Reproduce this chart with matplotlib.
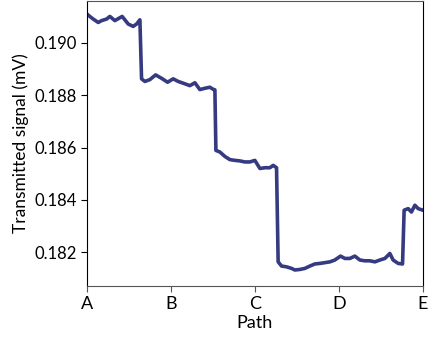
import matplotlib
matplotlib.use("Agg")
import matplotlib.pyplot as plt

plt.rcParams['font.family'] = ['Lato', 'DejaVu Sans']

# path position (0=A ... 4=E) and transmitted signal (mV)
pos = [0.0, 0.015, 0.075, 0.135, 0.175, 0.235, 0.274, 0.333, 0.420, 0.492, 0.551, 0.592, 0.631,
       0.651, 0.690, 0.750, 0.818, 0.889, 0.961, 1.027, 1.087, 1.167, 1.226, 1.286, 1.345, 1.405,
       1.464, 1.504, 1.524,
       1.536, 1.583, 1.643, 1.702, 1.762, 1.821, 1.881, 1.940, 2.000, 2.060, 2.119, 2.179, 2.218,
       2.258,
       2.277, 2.318, 2.377, 2.437, 2.476, 2.536, 2.595, 2.655, 2.714, 2.774, 2.833, 2.893, 2.952,
       3.020, 3.071, 3.131, 3.190, 3.250, 3.310, 3.369, 3.429, 3.488, 3.548, 3.607, 3.646, 3.706,
       3.758,
       3.777, 3.825, 3.864, 3.905, 3.944, 4.000]
signal = [0.19110, 0.19105, 0.19090, 0.19077, 0.19084, 0.19090, 0.19100, 0.19084, 0.19100, 0.19071,
          0.19062, 0.19071, 0.19087,
          0.18862, 0.18852, 0.18859, 0.18877, 0.18864, 0.18849, 0.18862, 0.18852, 0.18843, 0.18836,
          0.18847, 0.18821, 0.18826, 0.18830, 0.18822, 0.18820,
          0.18589, 0.18583, 0.18566, 0.18554, 0.18551, 0.18549, 0.18545, 0.18545, 0.18551, 0.18520,
          0.18523, 0.18523, 0.18532, 0.18523,
          0.18164, 0.18148, 0.18145, 0.18139, 0.18133, 0.18135, 0.18139, 0.18148, 0.18156, 0.18158,
          0.18161, 0.18164, 0.18171, 0.18186, 0.18177, 0.18177, 0.18186, 0.18171, 0.18168, 0.18168,
          0.18164, 0.18171, 0.18177, 0.18196, 0.18171, 0.18158, 0.18156,
          0.18361, 0.18367, 0.18354, 0.18380, 0.18367, 0.18361]

tick_pos = [0, 1, 2, 3, 4]
tick_labels = ['A', 'B', 'C', 'D', 'E']
y_ticks = [0.182, 0.184, 0.186, 0.188, 0.190]

fig = plt.figure(figsize=(4.28, 3.43), dpi=100)
ax = fig.add_axes([0.203, 0.167, 0.785, 0.831])

ax.plot(pos, signal, color='#363a80', linewidth=2.6, solid_joinstyle='round')

ax.set_xlim(0, 4)
ax.set_ylim(0.18073, 0.19160)
ax.set_xticks(tick_pos)
ax.set_xticklabels(tick_labels)
ax.set_yticks(y_ticks)
ax.set_yticklabels(['%.3f' % v for v in y_ticks])
ax.tick_params(labelsize=12, length=4)
ax.tick_params(axis='x', color='#555555', labelsize=13)

ax.set_xlabel('Path', fontsize=13, labelpad=2)
ax.set_ylabel('Transmitted signal (mV)', fontsize=12.5)
ax.yaxis.set_label_coords(-0.172, 0.5)

# top and bottom frame lines are grey, sides black
for side in ['top', 'bottom']:
    ax.spines[side].set_color('#555555')
for side in ['left', 'right']:
    ax.spines[side].set_color('black')

fig.savefig('out.png', dpi=100)
